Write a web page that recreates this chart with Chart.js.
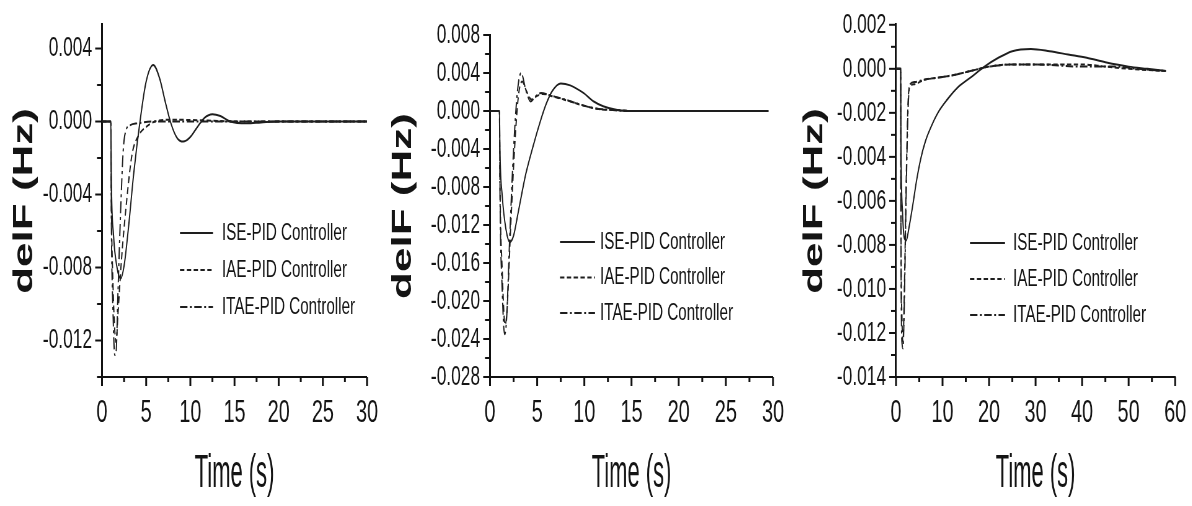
<!DOCTYPE html>
<html>
<head>
<meta charset="utf-8">
<script src="https://cdn.jsdelivr.net/npm/chart.js@4.4.1/dist/chart.umd.min.js"></script>
<style>
  html, body { margin: 0; padding: 0; background: #fff; }
  body { width: 1192px; height: 506px; position: relative; overflow: hidden; }
  canvas { position: absolute; top: 0; transform-origin: 0 0; }
</style>
</head>
<body>
<canvas id="p1"></canvas>
<canvas id="p2"></canvas>
<canvas id="p3"></canvas>
<script>
// the source figure is squashed sideways, so every panel is drawn wide and scaled down in x
const SQUASH = 0.62;
const H = 506;

const SERIES = ['ISE-PID Controller', 'IAE-PID Controller', 'ITAE-PID Controller'];
const DASHES = [[], [7, 4], [12, 4, 3, 4]];
const X_TITLE = 'Time (s)';
const Y_TITLE = 'delF (Hz)';

// panel 1: [time (s), delF (Hz)]
const p1ISE = [[0,0],[1,0],[1.05,-0.003],[1.3,-0.0062],[1.7,-0.008],[2.1,-0.0086],[2.5,-0.0079],[3.0,-0.0058],[3.6,-0.0028],[4.3,0],[5.0,0.0022],[5.8,0.0031],[6.5,0.0024],[7.2,0.001],[7.8,-0.0001],[8.5,-0.0009],[9.2,-0.0011],[9.9,-0.0009],[10.8,-0.0003],[11.6,0.0002],[12.5,0.0004],[13.4,0.0003],[14.5,0],[16.4,-0.0001],[18,-0.00005],[20,0],[30,0]];
const p1IAE = [[0,0],[1,0],[1.05,-0.004],[1.25,-0.009],[1.45,-0.0115],[1.6,-0.0121],[1.8,-0.0106],[2.2,-0.0076],[2.8,-0.0043],[3.4,-0.0018],[4.1,-0.0008],[5,-0.0003],[6,0],[8,0.0001],[12,0.00005],[16,0],[30,0]];
const p1ITAE = [[0,0],[1,0],[1.05,-0.005],[1.25,-0.0105],[1.45,-0.0128],[1.6,-0.0126],[1.8,-0.0095],[2.1,-0.005],[2.4,-0.0016],[2.7,-0.0005],[3.2,-0.0002],[4,-0.0001],[6,0],[30,0]];

// panel 2
const p2ISE = [[0,0],[1,0],[1.05,-0.004],[1.3,-0.009],[1.7,-0.0125],[2.1,-0.0138],[2.5,-0.0131],[3.0,-0.0106],[3.8,-0.0066],[4.6,-0.0036],[5.3,-0.0012],[5.9,0.0006],[6.6,0.0021],[7.5,0.0029],[8.5,0.0027],[9.9,0.0019],[11,0.001],[12,0.0005],[13.5,0.0001],[15,0],[29.5,0]];
const p2IAE = [[0,0],[1,0],[1.05,-0.007],[1.3,-0.017],[1.6,-0.0225],[1.8,-0.021],[2.2,-0.012],[2.6,-0.004],[3.0,0.0015],[3.4,0.0031],[3.9,0.002],[4.4,0.0012],[5,0.0016],[5.6,0.0018],[6.8,0.0015],[8.2,0.0011],[9.8,0.0006],[11.5,0.0002],[13.5,0.0001],[15,0],[29.5,0]];
const p2ITAE = [[0,0],[1,0],[1.05,-0.008],[1.3,-0.019],[1.55,-0.0235],[1.75,-0.022],[2.1,-0.013],[2.5,-0.004],[2.9,0.002],[3.3,0.004],[3.8,0.0022],[4.3,0.001],[4.8,0.0015],[5.4,0.0019],[6.5,0.0016],[8,0.0012],[9.5,0.0007],[11,0.0003],[13,0.0001],[15,0],[29.5,0]];

// panel 3
const p3ISE = [[0,0],[1,0],[1.05,-0.003],[1.4,-0.0065],[1.8,-0.0077],[2.2,-0.0078],[2.8,-0.0072],[3.6,-0.0062],[4.4,-0.0051],[5.3,-0.0041],[6.3,-0.0033],[7.4,-0.0027],[9,-0.002],[11,-0.0014],[13.5,-0.0008],[16,-0.0004],[19,0.0001],[22,0.0005],[25,0.0008],[29,0.0009],[33,0.0008],[37,0.00065],[41,0.0005],[45,0.0003],[50,0.0001],[54,0],[58,-0.0001]];
const p3IAE = [[0,0],[1,0],[1.05,-0.006],[1.3,-0.0115],[1.5,-0.0124],[1.8,-0.01],[2.2,-0.005],[2.6,-0.0015],[3,-0.0008],[4,-0.0007],[6,-0.0005],[9,-0.0004],[12,-0.0003],[16,-0.0001],[20,0.0001],[25,0.0002],[30,0.0002],[40,0.0002],[45,0.0001],[50,0],[58,-0.0001]];
const p3ITAE = [[0,0],[1,0],[1.05,-0.007],[1.3,-0.0125],[1.5,-0.0127],[1.8,-0.0105],[2.2,-0.0055],[2.6,-0.0018],[3,-0.0007],[4,-0.0006],[6,-0.0005],[9,-0.0004],[12,-0.0003],[16,-0.0001],[20,0.0001],[25,0.0002],[30,0.0002],[40,0.0001],[47,0.0001],[52,0],[58,-0.0001]];

// axis ranges: [min, max, minor step, labelled step]
const p1X = [0, 30, 2.5, 5];
const p1Y = [-0.014, 0.0053, 0.002, 0.004];
const p2X = [0, 30, 2.5, 5];
const p2Y = [-0.028, 0.008, 0.002, 0.004];
const p3X = [0, 60, 5, 10];
const p3Y = [-0.014, 0.002, 0.001, 0.002];

const FONT = "'Liberation Sans', Arial, sans-serif";
const INK = '#141414';

// layout in screen pixels
const panels = [
  { id: 'p1', left: 0, right: 388, plot: [102, 367, 8, 377], x: p1X, y: p1Y,
    data: [p1ISE, p1IAE, p1ITAE], titleX: 25, legend: [180, 213, 222, 233, 37] },
  { id: 'p2', left: 388, right: 790, plot: [490, 773, 35, 377], x: p2X, y: p2Y,
    data: [p2ISE, p2IAE, p2ITAE], titleX: 403.5, legend: [560, 595, 600, 242, 35.5] },
  { id: 'p3', left: 790, right: 1192, plot: [896, 1178, 23, 377], x: p3X, y: p3Y,
    data: [p3ISE, p3IAE, p3ITAE], titleX: 815, legend: [970, 1005, 1013, 243, 36] },
];

const onStep = (v, step) => Math.abs(v / step - Math.round(v / step)) < 1e-6;

function stepTicks(min, max, step) {
  const out = [];
  for (let k = Math.ceil(min / step - 1e-6); k * step <= max + 1e-9; k++) {
    out.push({ value: +(k * step).toFixed(6) });
  }
  return out;
}

function makePanel(p) {
  const canvas = document.getElementById(p.id);
  const sx = (px) => (px - p.left) / SQUASH;
  const w = Math.round(sx(p.right));
  canvas.width = w;
  canvas.height = H;
  canvas.style.left = p.left + 'px';
  canvas.style.transform = `scaleX(${SQUASH})`;

  const [xMin, xMax, xMinor, xMajor] = p.x;
  const [yMin, yMax, yMinor, yMajor] = p.y;
  const [plotL, plotR, plotT, plotB] = p.plot;

  // outward tick marks, long on labelled values, plus the narrow x title
  const axisExtras = {
    id: 'axisExtras',
    afterDraw(chart) {
      const { ctx, chartArea: a, scales } = chart;
      ctx.save();
      ctx.strokeStyle = '#111';
      ctx.lineWidth = 2;
      scales.y.ticks.forEach((t) => {
        const py = scales.y.getPixelForValue(t.value);
        const len = onStep(t.value, yMajor) ? 11 : 8;
        ctx.beginPath();
        ctx.moveTo(a.left - len, py);
        ctx.lineTo(a.left, py);
        ctx.stroke();
      });
      ctx.lineWidth = 3;
      scales.x.ticks.forEach((t) => {
        const px = scales.x.getPixelForValue(t.value);
        const len = onStep(t.value, xMajor) ? 9 : 5;
        ctx.beginPath();
        ctx.moveTo(px, a.bottom);
        ctx.lineTo(px, a.bottom + len);
        ctx.stroke();
      });

      ctx.translate((a.left + a.right) / 2, 474);
      ctx.scale(0.77, 1);
      ctx.fillStyle = INK;
      ctx.font = `46px ${FONT}`;
      ctx.textAlign = 'center';
      ctx.textBaseline = 'middle';
      ctx.fillText(X_TITLE, 0, 0);
      ctx.restore();
    },
  };

  const legendBox = {
    id: 'legendBox',
    afterDraw(chart) {
      const ctx = chart.ctx;
      const [x0, x1, tx, y0, dy] = p.legend;
      chart.data.datasets.forEach((ds, i) => {
        const yy = y0 + i * dy;
        ctx.save();
        ctx.strokeStyle = ds.borderColor;
        ctx.lineWidth = ds.borderWidth;
        ctx.setLineDash(ds.borderDash);
        ctx.beginPath();
        ctx.moveTo(sx(x0), yy);
        ctx.lineTo(sx(x1), yy);
        ctx.stroke();
        ctx.setLineDash([]);
        ctx.fillStyle = INK;
        ctx.font = `24.5px ${FONT}`;
        ctx.textBaseline = 'middle';
        ctx.fillText(ds.label, sx(tx), yy);
        ctx.restore();
      });
    },
  };

  new Chart(canvas, {
    type: 'line',
    data: {
      datasets: p.data.map((d, i) => ({
        label: SERIES[i],
        data: d.map(([x, y]) => ({ x, y })),
        borderColor: '#1e1e1e',
        borderWidth: 2,
        borderDash: DASHES[i],
        pointRadius: 0,
        cubicInterpolationMode: 'monotone',
        fill: false,
      })),
    },
    options: {
      responsive: false,
      animation: false,
      devicePixelRatio: 1,
      layout: { padding: { left: 0, top: plotT, right: w - sx(plotR), bottom: 0 } },
      plugins: { legend: { display: false }, tooltip: { enabled: false } },
      scales: {
        x: {
          type: 'linear',
          min: xMin,
          max: xMax,
          afterFit: (s) => { s.height = H - plotB; },
          afterBuildTicks: (s) => { s.ticks = stepTicks(xMin, xMax, xMinor); },
          ticks: {
            autoSkip: false,
            maxRotation: 0,
            padding: 9,
            color: INK,
            font: { family: FONT, size: 32 },
            callback: (v) => (onStep(v, xMajor) ? String(Math.round(v)) : ''),
          },
          grid: { display: true, drawOnChartArea: false, drawTicks: true, tickLength: 8, color: 'rgba(0,0,0,0)' },
          border: { display: true, color: '#111', width: 2 },
        },
        y: {
          type: 'linear',
          min: yMin,
          max: yMax,
          afterFit: (s) => { s.width = sx(plotL); },
          afterBuildTicks: (s) => { s.ticks = stepTicks(yMin, yMax, yMinor); },
          ticks: {
            autoSkip: false,
            padding: 8,
            color: INK,
            font: { family: FONT, size: 28 },
            callback: (v) => (onStep(v, yMajor) ? (Math.round(v * 1e4) / 1e4).toFixed(3) : ''),
          },
          grid: { display: true, drawOnChartArea: false, drawTicks: true, tickLength: 8, color: 'rgba(0,0,0,0)' },
          border: { display: true, color: '#111', width: 3 },
          title: {
            display: true,
            text: Y_TITLE,
            color: INK,
            font: { family: FONT, size: 44, weight: 'bold', lineHeight: 1 },
            padding: { top: sx(p.titleX) - 22, bottom: 0 },
          },
        },
      },
    },
    plugins: [axisExtras, legendBox],
  });
}

panels.forEach(makePanel);
</script>
</body>
</html>
